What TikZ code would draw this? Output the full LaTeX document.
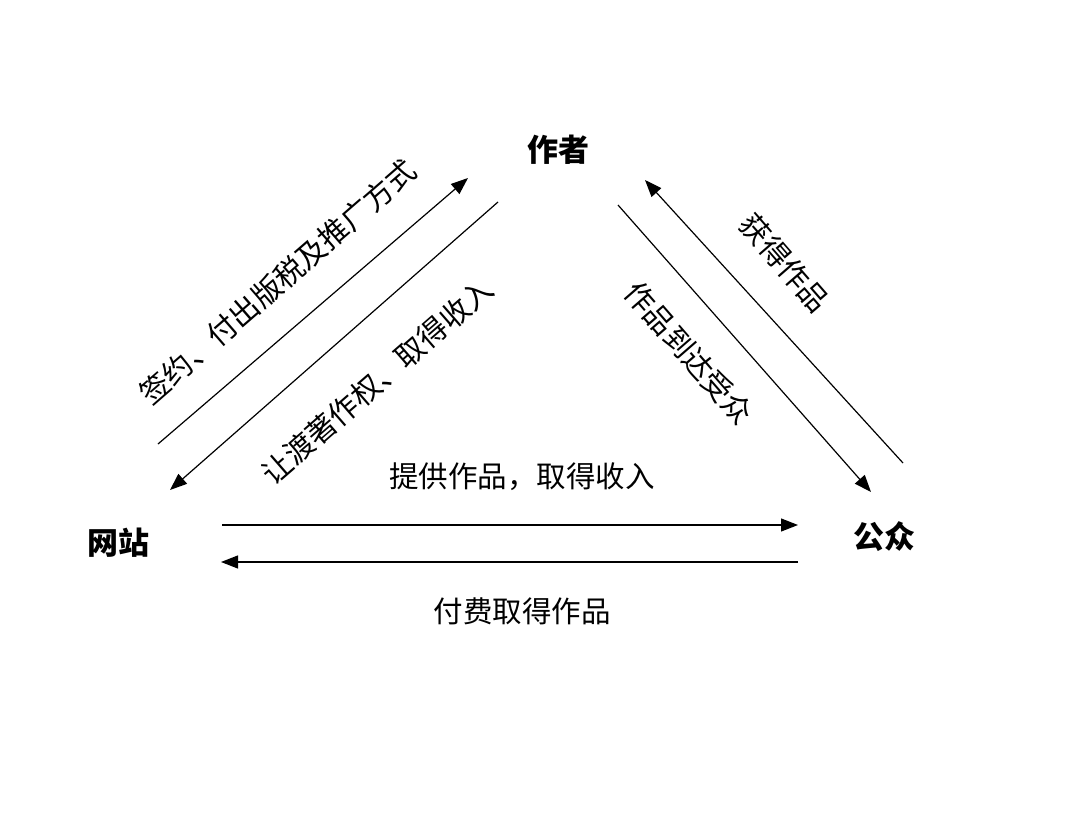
\documentclass[tikz,border=0pt]{standalone}
\usepackage{fontspec}
\newfontfamily\cjk{Noto Sans CJK SC}
\usetikzlibrary{arrows.meta}
\tikzset{
  party/.style={font=\cjk\bfseries\fontsize{31}{33}\selectfont, inner sep=0pt},
  lbl/.style={font=\cjk\fontsize{29.5}{31}\selectfont, inner sep=0pt},
  flow/.style={line width=1.2pt, -{Triangle[length=17pt,width=13pt]}},
}
\begin{document}
\begin{tikzpicture}[x=1pt,y=-1pt]
\useasboundingbox (0,0) rectangle (1080,835);
% parties
\node[party] (author) at (558,150) {作者};
\node[party] (site) at (118,543) {网站};
\node[party] (public) at (884,537) {公众};
% connector end points
\coordinate (a1s) at (158,444); \coordinate (a1e) at (468,178);
\coordinate (a2s) at (498,202); \coordinate (a2e) at (170,490);
\coordinate (b1s) at (903,463); \coordinate (b1e) at (645,180);
\coordinate (b2s) at (618,205); \coordinate (b2e) at (871,492);
\coordinate (c1s) at (222,525); \coordinate (c1e) at (798,525);
\coordinate (c2s) at (798,562); \coordinate (c2e) at (221,562);
\draw[flow] (a1s) -- (a1e);
\draw[flow] (a2s) -- (a2e);
\draw[flow] (b1s) -- (b1e);
\draw[flow] (b2s) -- (b2e);
\draw[flow] (c1s) -- (c1e);
\draw[flow] (c2s) -- (c2e);
% labels
\node[lbl, rotate=41] (l1) at (278,282) {签约、付出版税及推广方式};
\node[lbl, rotate=41] (l2) at (377,381) {让渡著作权、取得收入};
\node[lbl, rotate=-49] (l3) at (785,263) {获得作品};
\node[lbl, rotate=-49] (l4) at (689,353) {作品到达受众};
\node[lbl] (l5) at (522,477) {提供作品，取得收入};
\node[lbl] (l6) at (522,611) {付费取得作品};
\end{tikzpicture}
\end{document}
